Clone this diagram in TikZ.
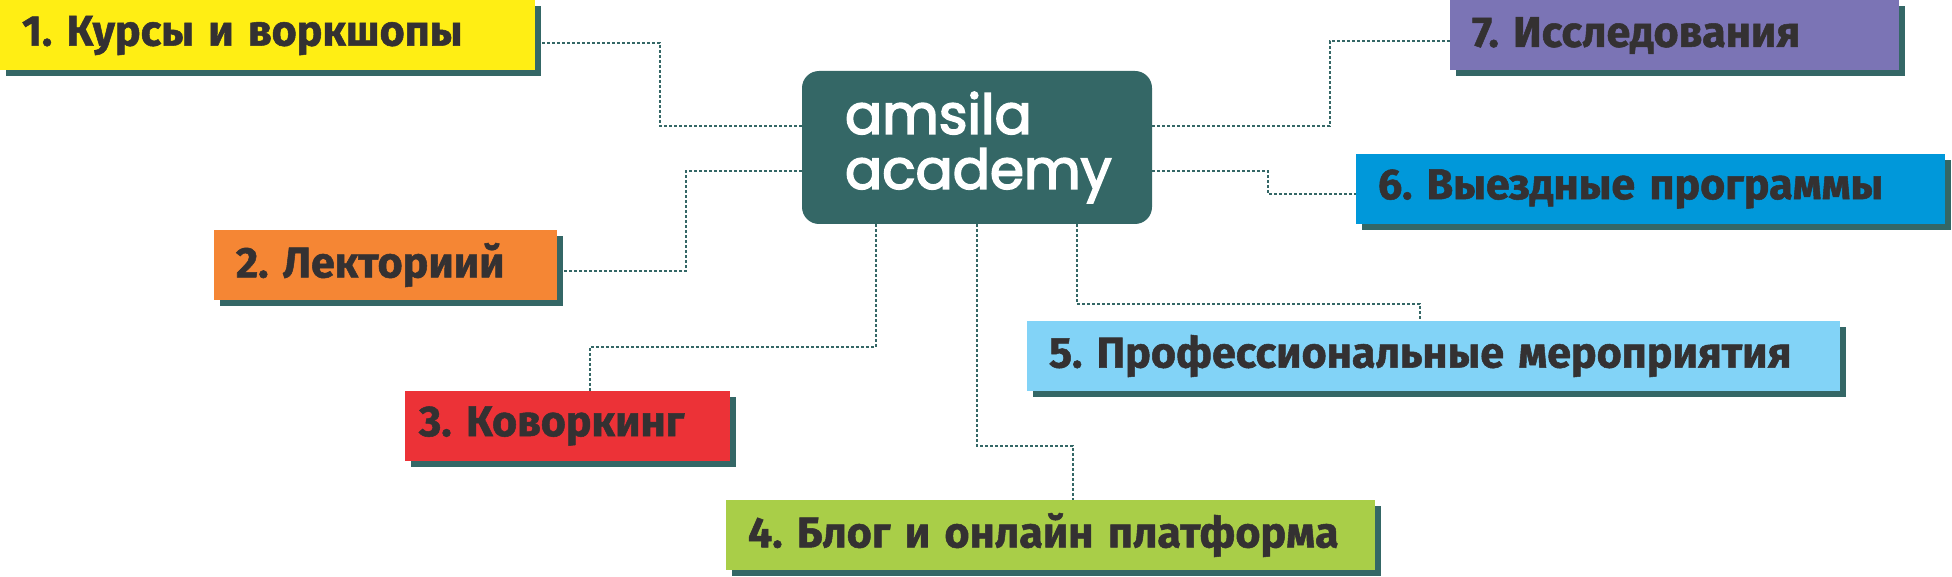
\documentclass[tikz,border=0pt]{standalone}
\usepackage{fontspec}
\usetikzlibrary{shadows, calc}
\newfontfamily\labelfont{Fira Sans}[BoldFeatures={FakeBold=1.2}]
\newfontfamily\logofont{Poppins}[FakeBold=3]
\frenchspacing
\definecolor{cteal}{HTML}{346766}
\definecolor{cink}{HTML}{343132}
\definecolor{cyellow}{HTML}{FFEE14}
\definecolor{corange}{HTML}{F58634}
\definecolor{cred}{HTML}{EC3237}
\definecolor{cgreen}{HTML}{A9CE48}
\definecolor{clightblue}{HTML}{82D3F7}
\definecolor{cblue}{HTML}{0098DA}
\definecolor{cpurple}{HTML}{7B74B5}
\tikzset{
  hub/.style={
    rectangle, rounded corners=8.5pt, fill=cteal, text=white,
    minimum width=175pt, minimum height=76.5pt,
    text width=132pt, align=left, inner xsep=21.5pt,
    font=\logofont\fontsize{27.5pt}{27.5pt}\selectfont
  },
  card/.style={
    rectangle, fill=#1, text=cink,
    minimum height=35pt, inner xsep=11pt, align=left,
    general shadow={fill=cteal, shadow xshift=3pt, shadow yshift=-3pt},
    font=\labelfont\bfseries\fontsize{21.5pt}{24pt}\selectfont
  },
  link/.style={cteal, line width=1pt, dash pattern=on 1.5pt off 1pt},
}
\begin{document}
\begin{tikzpicture}[x=0.5pt, y=-0.5pt]
  \useasboundingbox (0,0) rectangle (1952,577);

  % ── nodes ─────────────────────────────────────────────────────────────────
  \node[hub] (academy) at (977,147.5) {amsila\\academy};

  \node[card=cyellow,    text width=245.5pt] (kursy)  at (267.5,35.5) {1. Курсы и воркшопы};
  \node[card=corange,    text width=149.5pt] (lektor) at (385.5,265)  {2. Лекториий};
  \node[card=cred,       text width=148.5pt, inner xsep=7pt] (kovork) at (567.5,426) {3. Коворкинг};
  \node[card=cgreen,     text width=302.5pt] (blog)   at (1050.5,535) {4. Блог и онлайн платформа};
  \node[card=clightblue, text width=384.5pt] (prof)   at (1433.5,356) {5. Профессиональные мероприятия};
  \node[card=cblue,      text width=272.5pt] (vyezd)  at (1650.5,189) {6. Выездные программы};
  \node[card=cpurple,    text width=202.5pt] (issled) at (1674.5,35.5) {7. Исследования};

  % ── edges ─────────────────────────────────────────────────────────────────
  \draw[link] ($(kursy.east)+(7,7.5)$)   -- ++(118,0) |- ($(academy.west)+(0,-21.5)$);
  \draw[link] ($(lektor.east)+(7,6)$)    -- ++(122,0) |- ($(academy.west)+(0,23.5)$);
  \draw[link] ($(kovork.north)+(22.5,0)$) -- ++(0,-44) -| ($(academy.south)+(-101,0)$);
  \draw[link] (academy.south)             -- ++(0,222) -| ($(blog.north)+(22.5,0)$);
  \draw[link] ($(academy.south)+(100,0)$) -- ++(0,80)  -| ($(prof.north)+(-13.5,0)$);
  \draw[link] ($(academy.east)+(0,23.5)$) -- ++(116,0) |- ($(vyezd.west)+(0,5)$);
  \draw[link] ($(academy.east)+(0,-21.5)$) -- ++(178,0) |- ($(issled.west)+(0,5.5)$);

\end{tikzpicture}
\end{document}
